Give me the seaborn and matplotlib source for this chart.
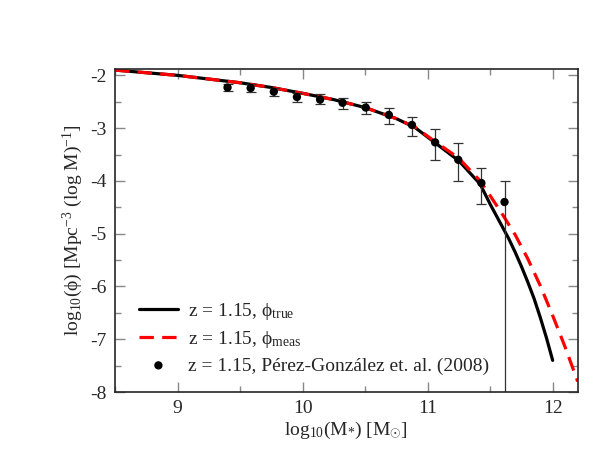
import numpy as np
import pandas as pd
import matplotlib
matplotlib.use("Agg")
import matplotlib.pyplot as plt
import seaborn as sns

# curves
x_true = [8.5, 8.75, 9.0, 9.25, 9.5, 9.75, 10.0, 10.25, 10.5, 10.75, 10.9,
          11.05, 11.25, 11.42, 11.5, 11.6, 11.65, 11.7, 11.75, 11.8, 11.85, 11.9, 11.95, 12.0]
y_true = [-1.90, -1.95, -2.00, -2.07, -2.14, -2.23, -2.34, -2.46, -2.61, -2.82, -2.99,
          -3.26, -3.62, -4.06, -4.44, -4.88, -5.10, -5.35, -5.62, -5.91, -6.22, -6.58, -6.97, -7.40]

x_meas = [8.5, 8.75, 9.0, 9.25, 9.5, 9.75, 10.0, 10.25, 10.5, 10.75, 10.9,
          11.05, 11.25, 11.42, 11.5, 11.6, 11.7, 11.8, 11.9, 12.0, 12.1, 12.2]
y_meas = [-1.90, -1.95, -2.00, -2.07, -2.14, -2.23, -2.34, -2.46, -2.61, -2.82, -2.98,
          -3.24, -3.57, -4.00, -4.28, -4.64, -5.02, -5.47, -5.98, -6.55, -7.15, -7.80]

# Perez-Gonzalez et al. (2008), z = 1.15
pg_x = [9.40, 9.585, 9.77, 9.955, 10.14, 10.32, 10.505, 10.69, 10.875, 11.06, 11.245, 11.43, 11.615]
pg_y = [-2.23, -2.24, -2.31, -2.41, -2.46, -2.52, -2.61, -2.75, -2.94, -3.27, -3.60, -4.04, -4.40]
pg_lo = [0.07, 0.07, 0.075, 0.09, 0.09, 0.11, 0.12, 0.17, 0.21, 0.34, 0.40, 0.40, 4.0]
pg_hi = [0.07, 0.08, 0.075, 0.07, 0.10, 0.10, 0.11, 0.14, 0.16, 0.26, 0.32, 0.29, 0.40]

sns.set_style("ticks")
plt.rcParams['font.family'] = ['Liberation Serif', 'DejaVu Serif']
plt.rcParams['mathtext.fontset'] = 'custom'
plt.rcParams['mathtext.rm'] = 'Liberation Serif'
plt.rcParams['mathtext.it'] = 'Liberation Serif:italic'

fig = plt.figure(figsize=(5.98, 4.62), dpi=100)
ax = fig.add_axes([0.1923, 0.1515, 0.7737, 0.6991])

df_true = pd.DataFrame({'x': x_true, 'y': y_true})
df_meas = pd.DataFrame({'x': x_meas, 'y': y_meas})
df_pg = pd.DataFrame({'x': pg_x, 'y': pg_y})

sns.lineplot(data=df_true, x='x', y='y', ax=ax, color='black', lw=2.3,
             label=u'z = 1.15, \u03d5$_{\\mathrm{true}}$')
sns.lineplot(data=df_meas, x='x', y='y', ax=ax, color='red', lw=2.3,
             label=u'z = 1.15, \u03d5$_{\\mathrm{meas}}$')
ax.lines[-1].set_dashes([4.5, 2.6])

ax.errorbar(pg_x, pg_y, yerr=[pg_lo, pg_hi], fmt='none', ecolor='#333333',
            elinewidth=0.9, capsize=3.3, capthick=0.9)
sns.scatterplot(data=df_pg, x='x', y='y', ax=ax, color='black', s=36,
                edgecolor='none', zorder=5,
                label=u'z = 1.15, P\u00e9rez-Gonz\u00e1lez et. al. (2008)')

ax.set_xlim(8.5, 12.2)
ax.set_ylim(-8, -1.88)
ax.set_xticks([9, 10, 11, 12])
ax.set_xticks(np.arange(8.5, 12.21, 0.5), minor=True)
ax.set_yticks([-8, -7, -6, -5, -4, -3, -2])
ax.set_yticklabels(['-8', '-7', '-6', '-5', '-4', '-3', '-2'])
ax.set_yticks(np.arange(-8, -1.8, 0.5), minor=True)
ax.tick_params(which='both', direction='in', top=True, right=True,
               color='#888888', labelsize=14, pad=6)
ax.tick_params(which='major', length=7, width=1)
ax.tick_params(which='minor', length=4, width=1)
for s in ax.spines.values():
    s.set_linewidth(1.2)

ax.set_xlabel(u'log$_{10}$(M$_{*}$) [M$_{\\odot}$]', fontsize=14, labelpad=2)
ax.set_ylabel(u'log$_{10}$(\u03d5) [Mpc$^{-3}$ (log M)$^{-1}$]', fontsize=14, labelpad=4)

ax.legend(loc='lower left', bbox_to_anchor=(0.035, 0.03), frameon=False,
          fontsize=14, handlelength=2.0, handletextpad=0.5, labelspacing=0.35,
          borderaxespad=0)

fig.savefig('out.png', dpi=100)
